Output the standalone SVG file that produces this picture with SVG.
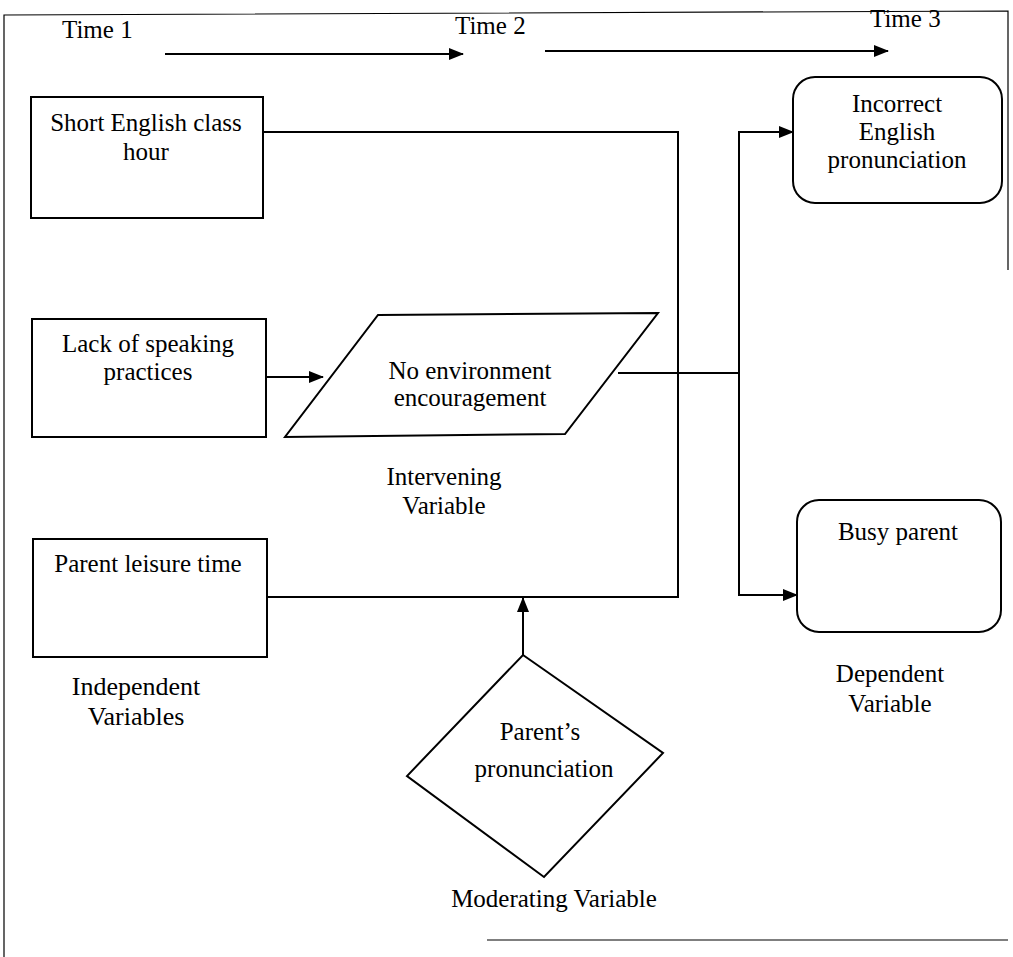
<svg xmlns="http://www.w3.org/2000/svg" width="1013" height="957" viewBox="0 0 1013 957">
  <defs>
    <marker id="arrow" markerWidth="15" markerHeight="12" refX="14" refY="6" orient="auto" markerUnits="userSpaceOnUse">
      <path d="M0,0 L15,6 L0,12 Z" fill="#000"/>
    </marker>
    <style>
      text { font-family: "Liberation Serif", "Times New Roman", serif; font-size: 25px; fill: #000; }
      .mid { text-anchor: middle; }
      .big { font-size: 26px; }
      .shape { fill: #fff; stroke: #000; stroke-width: 2; }
      .conn { fill: none; stroke: #000; stroke-width: 2; }
      .frame { fill: none; stroke: #000; stroke-width: 1.2; }
    </style>
  </defs>
  <rect width="1013" height="957" fill="#fff"/>

  <!-- outer frame -->
  <g id="frame">
    <path class="frame" d="M4,957 L4,15 L1008,11 L1008,270"/>
    <path class="frame" d="M487,940 L1008,940"/>
  </g>

  <!-- time axis -->
  <g id="timeline">
    <text x="62" y="38">Time 1</text>
    <text x="455" y="34">Time 2</text>
    <text x="870" y="27">Time 3</text>
    <line class="conn" x1="165" y1="54" x2="463" y2="54" marker-end="url(#arrow)"/>
    <line class="conn" x1="545" y1="51" x2="888" y2="51" marker-end="url(#arrow)"/>
  </g>

  <!-- connectors -->
  <g id="connectors">
    <path class="conn" d="M263,132 L678,132 L678,597 L267,597"/>
    <line class="conn" x1="266" y1="377" x2="323" y2="377" marker-end="url(#arrow)"/>
    <line class="conn" x1="618" y1="373" x2="739" y2="373"/>
    <path class="conn" d="M739,132 L739,595"/>
    <line class="conn" x1="738" y1="132" x2="793" y2="132" marker-end="url(#arrow)"/>
    <line class="conn" x1="738" y1="595" x2="797" y2="595" marker-end="url(#arrow)"/>
    <line class="conn" x1="523" y1="655" x2="523" y2="598" marker-end="url(#arrow)"/>
  </g>

  <!-- independent variables -->
  <g id="node-short-class">
    <rect class="shape" x="31" y="97" width="232" height="121"/>
    <text class="mid" x="146" y="131">Short English class</text>
    <text class="mid" x="146" y="160">hour</text>
  </g>
  <g id="node-speaking">
    <rect class="shape" x="32" y="319" width="234" height="118"/>
    <text class="mid" x="148" y="352">Lack of speaking</text>
    <text class="mid" x="148" y="380">practices</text>
  </g>
  <g id="node-leisure">
    <rect class="shape" x="33" y="539" width="234" height="118"/>
    <text class="mid" x="148" y="572">Parent leisure time</text>
  </g>
  <g id="label-independent">
    <text class="mid big" x="136" y="695">Independent</text>
    <text class="mid big" x="136" y="725">Variables</text>
  </g>

  <!-- intervening variable -->
  <g id="node-environment">
    <polygon class="shape" points="378,315 658,313 565,434 285,437"/>
    <text class="mid" x="470" y="379">No environment</text>
    <text class="mid" x="470" y="406">encouragement</text>
  </g>
  <g id="label-intervening">
    <text class="mid" x="444" y="485">Intervening</text>
    <text class="mid" x="444" y="514">Variable</text>
  </g>

  <!-- moderating variable -->
  <g id="node-pronunciation">
    <polygon class="shape" points="523,655 663,753 544,877 407,776"/>
    <text class="mid" x="540" y="740">Parent’s</text>
    <text class="mid" x="544" y="777">pronunciation</text>
  </g>
  <g id="label-moderating">
    <text class="mid" x="554" y="907">Moderating Variable</text>
  </g>

  <!-- dependent variables -->
  <g id="node-incorrect">
    <rect class="shape" x="793" y="77" width="209" height="126" rx="22" ry="22"/>
    <text class="mid" x="897" y="112">Incorrect</text>
    <text class="mid" x="897" y="140">English</text>
    <text class="mid" x="897" y="168">pronunciation</text>
  </g>
  <g id="node-busy">
    <rect class="shape" x="797" y="500" width="204" height="132" rx="22" ry="22"/>
    <text class="mid" x="898" y="540">Busy parent</text>
  </g>
  <g id="label-dependent">
    <text class="mid" x="890" y="682">Dependent</text>
    <text class="mid" x="890" y="712">Variable</text>
  </g>
</svg>
